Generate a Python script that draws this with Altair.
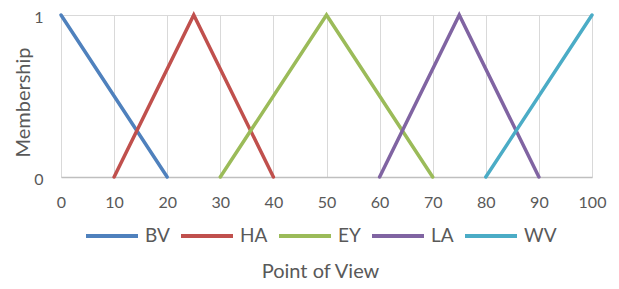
import altair as alt
import pandas as pd

series = ["BV", "HA", "EY", "LA", "WV"]
colors = ["#4F81BD", "#C0504D", "#9BBB59", "#8064A2", "#4BACC6"]
bv_x = [0, 20]
bv_y = [1, 0]
ha_x = [10, 25, 40]
ha_y = [0, 1, 0]
ey_x = [30, 50, 70]
ey_y = [0, 1, 0]
la_x = [60, 75, 90]
la_y = [0, 1, 0]
wv_x = [80, 100]
wv_y = [0, 1]
x_ticks = list(range(0, 101, 10))

rows = []
for name, xs, ys in [("BV", bv_x, bv_y), ("HA", ha_x, ha_y), ("EY", ey_x, ey_y),
                     ("LA", la_x, la_y), ("WV", wv_x, wv_y)]:
    for i, (a, b) in enumerate(zip(xs, ys)):
        rows.append({"series": name, "x": a, "y": b, "order": i})
df = pd.DataFrame(rows)

FONT = "Lato"
GREY = "#595959"

chart = alt.Chart(df).mark_line(strokeWidth=3.5, strokeCap="round").encode(
    x=alt.X("x:Q", scale=alt.Scale(domain=[0, 100], nice=False),
            axis=alt.Axis(values=x_ticks, title="Point of View", grid=True,
                          gridColor="#D9D9D9", domainColor="#BFBFBF", domainWidth=1.5,
                          ticks=False, labelPadding=17, labelFontSize=16,
                          labelColor=GREY, labelFont=FONT, format="d", labelFlush=False,
                          titleFont=FONT, titleFontSize=20, titleColor=GREY,
                          titleFontWeight="normal", titleY=100, titleX=259,
                          titleAlign="center", titleBaseline="alphabetic")),
    y=alt.Y("y:Q", scale=alt.Scale(domain=[0, 1], nice=False),
            axis=alt.Axis(values=[0, 1], title="Membership", grid=True, format="d",
                          gridColor="#D9D9D9", domain=False, ticks=False,
                          labelPadding=18, labelFontSize=16, labelColor=GREY,
                          labelOffset=2,
                          labelFont=FONT, titleFont=FONT, titleFontSize=20,
                          titleColor=GREY, titleFontWeight="normal",
                          titleX=-38, titleY=87, titleAngle=270,
                          titleAlign="center", titleBaseline="middle")),
    color=alt.Color("series:N", scale=alt.Scale(domain=series, range=colors),
                    sort=series,
                    legend=alt.Legend(title=None, orient="none", direction="horizontal",
                                      legendX=23, legendY=193, symbolType="stroke",
                                      symbolSize=2704, symbolStrokeWidth=4,
                                      labelFontSize=19, labelFont=FONT, labelColor=GREY,
                                      labelOffset=5, columnPadding=3, columns=5)),
    order="order:O",
).properties(
    width=531, height=162,
    padding={"left": 53, "top": 7, "right": 19, "bottom": 104},
    autosize=alt.AutoSizeParams(type="none"),
).configure_view(stroke=None).properties(background="white")

chart.save("out.html", embed_options={"renderer": "svg", "actions": False})
